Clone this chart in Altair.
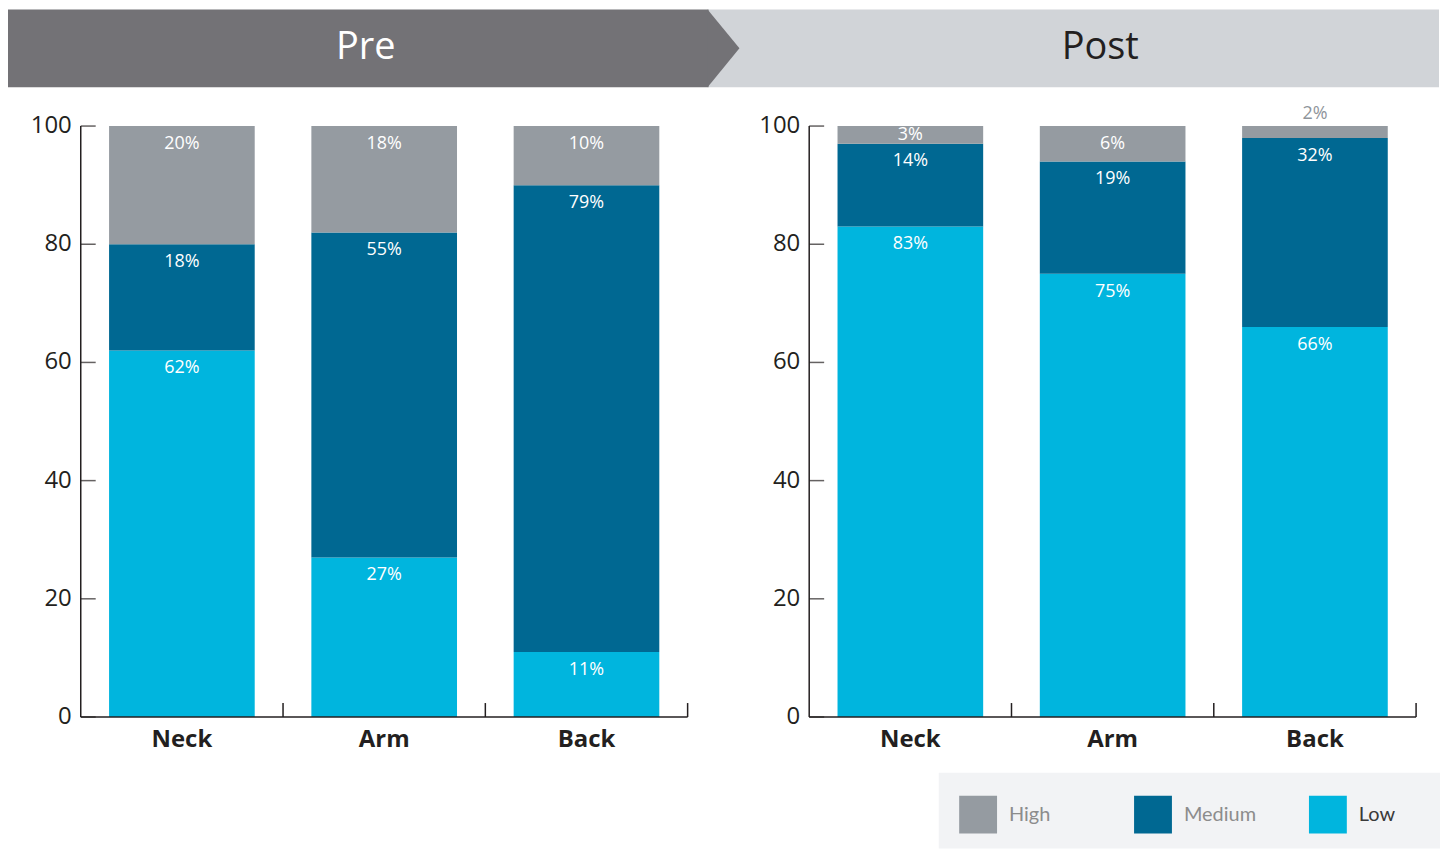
import altair as alt
import pandas as pd

# ---------------- data ----------------
phases = ["Pre", "Post"]
categories = ["Neck", "Arm", "Back"]
levels = ["High", "Medium", "Low"]
level_colors = ["#959ba1", "#006892", "#00b5de"]

pre_low = [62, 27, 11]
pre_medium = [18, 55, 79]
pre_high = [20, 18, 10]

post_low = [83, 75, 66]
post_medium = [14, 19, 32]
post_high = [3, 6, 2]

y_ticks = [0, 20, 40, 60, 80, 100]

# ---------------- styling ----------------
FONT = "Open Sans"
INK = "#231f20"
PRE_BG = "#737276"
POST_BG = "#d1d4d8"
LEGEND_BG = "#f2f3f5"

TOTAL_W = 1436
PANEL_W, PANEL_GAP, LEFT = 609, 122, 73
PH = 593
P_INNER = 0.28
ROW_GAP = 39
TICK_LEN = 15


def build_rows(phase, low, med, high):
    rows = []
    for i, c in enumerate(categories):
        start = 0
        for lvl, v in (("Low", low[i]), ("Medium", med[i]), ("High", high[i])):
            end = start + v
            inside = v >= 2.5
            rows.append(dict(
                phase=phase, cat=c, level=lvl, value=v, start=start, end=end,
                label=f"{v}%",
                label_y=(end - min(3.0, v / 2)) if inside else end + 2,
                label_color="#ffffff" if inside else "#8f959b",
            ))
            start = end
    return rows


bar_df = pd.DataFrame(build_rows("Pre", pre_low, pre_medium, pre_high)
                      + build_rows("Post", post_low, post_medium, post_high))
one = pd.DataFrame({"k": [0]})
phase_df = pd.DataFrame({"phase": phases})
tick_df = pd.DataFrame([{"phase": p, "tick": t, "tlabel": str(t)} for p in phases for t in y_ticks])
cat_df = pd.DataFrame([{"phase": p, "cat": c} for p in phases for c in categories])

# ---------------- panels (one layered view, both panels) ----------------
xscale = alt.Scale(domain=phases, range=[LEFT, LEFT + 2 * PANEL_W + PANEL_GAP],
                   paddingInner=PANEL_GAP / (PANEL_GAP + PANEL_W), paddingOuter=0)
yscale = alt.Scale(domain=[0, 100], nice=False, zero=True)


def X(**kw):
    return alt.X("phase:N", scale=xscale, axis=None, sort=phases, **kw)


def XO():
    return alt.XOffset("cat:N", sort=categories,
                       scale=alt.Scale(domain=categories, paddingInner=P_INNER, paddingOuter=P_INNER / 2))


def Y(f):
    return alt.Y(f, scale=yscale, axis=None)


bars = alt.Chart(bar_df).mark_bar().encode(
    x=X(), xOffset=XO(), y=Y("end:Q"), y2="start:Q",
    color=alt.Color("level:N", scale=alt.Scale(domain=levels, range=level_colors), legend=None),
)
bar_labels = alt.Chart(bar_df).mark_text(font=FONT, fontSize=18, baseline="middle", align="center").encode(
    x=X(), xOffset=XO(), y=Y("label_y:Q"), text="label:N",
    color=alt.Color("label_color:N", scale=None),
)
cat_labels = alt.Chart(cat_df).mark_text(font=FONT, fontSize=24, fontWeight="bold", color=INK,
                                         baseline="top", align="center").encode(
    x=X(), xOffset=XO(), y=alt.value(PH + 11), text="cat:N",
)
y_lines = alt.Chart(phase_df).mark_rule(color=INK, strokeWidth=1.5).encode(
    x=X(bandPosition=0), y=alt.value(0), y2=alt.value(PH),
)
baselines = alt.Chart(phase_df).mark_bar(color=INK).encode(
    x=X(), y=alt.value(PH - 0.75), y2=alt.value(PH + 0.75),
)
# tick marks sit at the band centre: shift them back to the axis line
y_ticks_marks = alt.Chart(tick_df).mark_tick(
    color=INK, orient="horizontal", size=TICK_LEN, thickness=1.5,
    xOffset=-(PANEL_W / 2) + TICK_LEN / 2,
).encode(
    x=X(), y=Y("tick:Q"),
)
y_tick_labels = alt.Chart(tick_df).mark_text(font=FONT, fontSize=24, color=INK, align="right",
                                             baseline="middle", dx=-9).encode(
    x=X(bandPosition=0), y=Y("tick:Q"), text="tlabel:N",
)
x_tick_layers = [
    alt.Chart(phase_df).mark_rule(color=INK, strokeWidth=1.5).encode(
        x=X(bandPosition=k / len(categories)), y=alt.value(PH), y2=alt.value(PH - 14),
    )
    for k in range(1, len(categories) + 1)
]

panels = alt.layer(
    bars, bar_labels, cat_labels, y_lines, baselines, y_ticks_marks, y_tick_labels, *x_tick_layers
).properties(width=LEFT + 2 * PANEL_W + PANEL_GAP, height=PH)

# ---------------- banners ----------------
BH = 78
PRE_END, ARROW_W = 702, 32
tip = -1 + 2 * ARROW_W / BH

banner = alt.layer(
    alt.Chart(one).mark_rect(color=POST_BG).encode(
        x=alt.value(PRE_END), x2=alt.value(TOTAL_W), y=alt.value(0), y2=alt.value(BH)),
    alt.Chart(one).mark_rect(color=PRE_BG).encode(
        x=alt.value(0), x2=alt.value(PRE_END + 1), y=alt.value(0), y2=alt.value(BH)),
    alt.Chart(one).mark_point(shape=f"M-1,-1L{tip:.4f},0L-1,1Z", size=BH * BH, filled=True,
                              color=PRE_BG, opacity=1, strokeWidth=0).encode(
        x=alt.value(PRE_END + BH / 2), y=alt.value(BH / 2)),
    alt.Chart(one).mark_text(text=phases[0], font=FONT, fontSize=38, color="#ffffff",
                             baseline="middle", align="center").encode(
        x=alt.value(359), y=alt.value(39)),
    alt.Chart(one).mark_text(text=phases[1], font=FONT, fontSize=38, color=INK,
                             baseline="middle", align="center").encode(
        x=alt.value(PRE_END + ARROW_W + 362), y=alt.value(39)),
).properties(width=TOTAL_W, height=BH)

# ---------------- legend ----------------
LX0, LW, LH = 934, 503, 76
LTOP = 56 - ROW_GAP
leg_df = pd.DataFrame({"level": levels, "color": level_colors})
leg_x = alt.X("level:N", scale=alt.Scale(type="point", domain=levels, padding=0,
                                         range=[LX0 + 39.5, LX0 + 390.5]), axis=None)
legend = alt.layer(
    alt.Chart(one).mark_rect(color=LEGEND_BG).encode(
        x=alt.value(LX0), x2=alt.value(LX0 + LW), y=alt.value(LTOP), y2=alt.value(LTOP + LH)),
    alt.Chart(leg_df).mark_square(size=38 * 38, opacity=1, filled=True).encode(
        x=leg_x, y=alt.value(LTOP + 42), color=alt.Color("color:N", scale=None)),
    alt.Chart(leg_df).mark_text(align="left", baseline="middle", dx=31, fontSize=20, font="Lato").encode(
        x=leg_x, y=alt.value(LTOP + 42), text="level:N",
        color=alt.when(alt.datum.level == "Low").then(alt.value("#3a3a3a")).otherwise(alt.value("#8c8c8c"))),
).properties(width=LX0 + LW, height=LTOP + LH)

# ---------------- layout ----------------
chart = alt.vconcat(banner, panels, legend, spacing=ROW_GAP, bounds="flush").properties(
    padding=0
).configure(font=FONT).configure_view(stroke=None)

chart.save("out.html", embed_options={"renderer": "svg", "actions": False})
